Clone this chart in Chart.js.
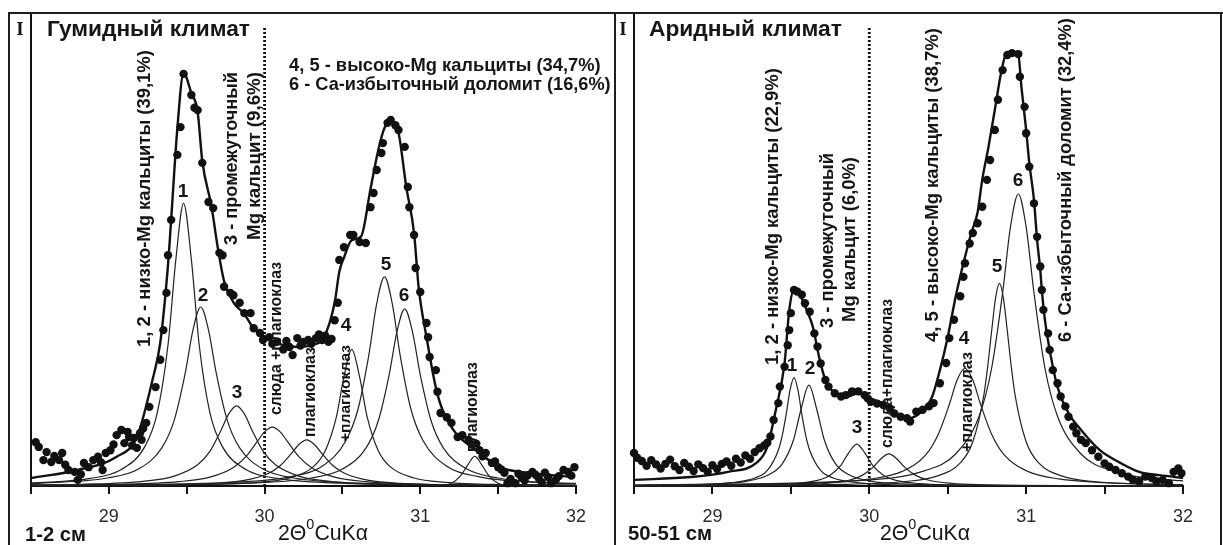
<!DOCTYPE html>
<html><head><meta charset="utf-8">
<script src="https://cdn.jsdelivr.net/npm/chart.js@4.4.1/dist/chart.umd.min.js"></script>
<style>
html,body{margin:0;padding:0;background:#fff;}
#wrap{position:relative;width:1223px;height:545px;overflow:hidden;background:#fff;}
canvas{position:absolute;left:0;top:0;}
.fr{position:absolute;background:#1e1e1e;}
</style></head><body>
<div id="wrap">
<canvas id="cL" width="1223" height="545"></canvas>
<canvas id="cR" width="1223" height="545"></canvas>
<div class="fr" style="left:8px;top:12px;width:1215px;height:2px"></div>
<div class="fr" style="left:8px;top:12px;width:2px;height:533px"></div>
<div class="fr" style="left:614px;top:12px;width:2px;height:533px"></div>
<div class="fr" style="left:1220px;top:12px;width:2px;height:533px"></div>
</div>
<script>
// ---------- axis ticks ----------
const xTicks = [28.5, 29, 29.5, 30, 30.5, 31, 31.5, 32];
const xTickLabels = ['', '29', '', '30', '', '31', '', '32'];
const dividerX = 30;

// ---------- LEFT panel (1-2 см) ----------
const L_dots = [[28.53,9.3],[28.55,8.3],[28.58,5.5],[28.60,7.2],[28.63,5.1],[28.65,6.4],[28.68,5.5],[28.70,7.0],[28.72,4.5],[28.74,3.4],[28.78,3.0],[28.80,1.3],[28.82,2.5],[28.84,4.9],[28.87,4.0],[28.90,5.5],[28.93,6.2],[28.95,5.0],[28.96,3.4],[28.98,7.0],[29.01,7.6],[29.03,8.8],[29.05,10.8],[29.08,11.9],[29.10,9.1],[29.12,11.5],[29.13,10.4],[29.15,8.6],[29.16,10.2],[29.18,8.1],[29.20,11.2],[29.21,9.8],[29.22,12.2],[29.24,13.4],[29.26,16.8],[29.30,21],[29.33,26.8],[29.35,33.1],[29.37,41],[29.38,49],[29.40,56.5],[29.44,70.3],[29.46,76.2],[29.48,87.5],[29.53,83],[29.55,80.3],[29.57,79.8],[29.60,68.6],[29.64,60.3],[29.67,59],[29.71,49.5],[29.73,49],[29.74,42.3],[29.78,41],[29.80,40.5],[29.84,38.9],[29.87,36.7],[29.91,36.7],[29.93,33.5],[29.97,32.5],[29.99,31],[30.03,31.6],[30.05,30.2],[30.08,30.6],[30.12,29.0],[30.14,30.8],[30.16,29.5],[30.18,27.8],[30.21,31.4],[30.23,29.8],[30.25,30.6],[30.28,31],[30.30,30.2],[30.33,31.4],[30.35,32.2],[30.37,31],[30.39,31.9],[30.41,30.6],[30.43,31.2],[30.45,35.2],[30.47,38.9],[30.48,48],[30.51,50.7],[30.55,53.3],[30.57,53.3],[30.61,51.8],[30.65,51.6],[30.68,59.2],[30.70,62.2],[30.72,67.1],[30.75,70.7],[30.76,72.8],[30.79,77.1],[30.81,77.7],[30.84,76.6],[30.86,75.6],[30.90,72],[30.92,63.5],[30.93,59.2],[30.96,53.3],[30.97,46.3],[31.0,41.2],[31.04,34.6],[31.05,31.6],[31.06,27.4],[31.10,24.6],[31.11,20],[31.13,15.5],[31.17,14.6],[31.20,13.4],[31.24,10.4],[31.27,10.8],[31.31,9.8],[31.33,8.8],[31.36,9.0],[31.38,7.6],[31.40,6.3],[31.42,7.0],[31.46,4.9],[31.48,5.2],[31.50,4.0],[31.52,3.5],[31.54,2.8],[31.56,0.6],[31.58,1.5],[31.61,0.6],[31.63,2.6],[31.65,1.9],[31.67,1.2],[31.69,2.3],[31.72,3.0],[31.74,2.4],[31.76,1.7],[31.78,0.8],[31.80,2.8],[31.82,1.9],[31.84,0.6],[31.87,1.3],[31.89,2.1],[31.92,3.4],[31.95,3.0],[31.97,2.2],[31.99,4.0]];
const L_envelope = [[28.5,1.7],[28.8,3.4],[29.05,6.2],[29.18,10.4],[29.28,22.5],[29.33,30.4],[29.38,47],[29.40,56.5],[29.44,76],[29.48,87.7],[29.53,83.4],[29.57,79.5],[29.60,69],[29.66,59.2],[29.70,50.5],[29.74,43.5],[29.80,39],[29.87,36.5],[29.93,33.5],[30.01,31.6],[30.11,30],[30.21,29.5],[30.31,30],[30.38,31.5],[30.45,38.9],[30.48,45.5],[30.51,48.5],[30.56,52.2],[30.62,53],[30.68,63],[30.73,71.3],[30.77,76],[30.81,77.3],[30.86,75],[30.91,63.5],[30.96,53.7],[30.99,42],[31.04,31.6],[31.11,19.5],[31.21,12],[31.36,7.6],[31.51,4],[31.69,2.8],[31.99,1.9]];
const L_c1 = [[28.5,0.6],[28.88,1.6],[29.08,3.5],[29.23,8.3],[29.31,15.4],[29.38,30],[29.43,48],[29.48,60],[29.53,48],[29.58,30],[29.65,15.4],[29.73,8.3],[29.88,3.5],[30.08,1.6],[30.48,0.6],[31.0,0.25],[32,0.1]];
const L_c2 = [[28.5,0.5],[28.99,1.7],[29.19,3.6],[29.34,8.1],[29.42,14],[29.49,23.9],[29.54,33.1],[29.59,38],[29.64,33.1],[29.69,23.9],[29.76,14],[29.84,8.1],[29.99,3.6],[30.19,1.7],[30.59,0.6],[31.5,0.2],[32,0.1]];
const L_c3 = [[28.5,0.22],[28.82,0.37],[29.22,1.0],[29.42,2.1],[29.57,4.5],[29.65,7.4],[29.72,11.8],[29.77,15.3],[29.82,17],[29.87,15.3],[29.92,11.8],[29.99,7.4],[30.07,4.5],[30.22,2.1],[30.42,1.0],[30.82,0.37],[32,0.15]];
const L_mica = [[28.5,0.15],[29.05,0.35],[29.45,0.93],[29.65,1.9],[29.8,3.95],[29.88,6.25],[29.95,9.3],[30.0,11.5],[30.05,12.5],[30.1,11.5],[30.15,9.3],[30.22,6.25],[30.3,3.95],[30.45,1.9],[30.65,0.93],[31.05,0.35],[32,0.15]];
const L_plag1 = [[28.5,0.07],[29.27,0.22],[29.67,0.58],[29.87,1.2],[30.02,2.6],[30.1,4.3],[30.17,6.8],[30.22,8.8],[30.27,9.8],[30.32,8.8],[30.37,6.8],[30.44,4.3],[30.52,2.6],[30.67,1.2],[30.87,0.58],[31.27,0.22],[32,0.1]];
const L_c4 = [[28.5,0.07],[29.56,0.29],[29.96,0.78],[30.16,1.7],[30.31,4.0],[30.39,7.5],[30.46,14.5],[30.51,23.2],[30.56,29],[30.61,23.2],[30.66,14.5],[30.73,7.5],[30.81,4.0],[30.96,1.7],[31.16,0.78],[31.56,0.29],[32,0.15]];
const L_c5 = [[28.5,0.15],[29.77,0.74],[30.17,2.0],[30.37,4.2],[30.52,9.5],[30.6,16.3],[30.67,27.9],[30.72,38.7],[30.77,44.4],[30.82,38.7],[30.87,27.9],[30.94,16.3],[31.02,9.5],[31.17,4.2],[31.37,2.0],[31.77,0.74],[32,0.5]];
const L_c6 = [[28.5,0.12],[29.9,0.62],[30.3,1.7],[30.5,3.6],[30.65,8.0],[30.73,13.8],[30.8,23.6],[30.85,32.7],[30.9,37.6],[30.95,32.7],[31.0,23.6],[31.07,13.8],[31.15,8.0],[31.3,3.6],[31.5,1.7],[31.9,0.62],[32,0.55]];
const L_plag2 = [[31.1,0],[31.2,0.6],[31.26,2.2],[31.3,4.2],[31.35,6.3],[31.4,4.2],[31.44,2.2],[31.5,0.6],[31.6,0]];

// ---------- RIGHT panel (50-51 см) ----------
const R_dots = [[28.5,7.0],[28.52,6.0],[28.55,5.3],[28.58,4.3],[28.61,5.5],[28.64,4.6],[28.67,3.7],[28.70,4.7],[28.73,5.6],[28.76,4.2],[28.79,3.4],[28.82,4.9],[28.85,4.1],[28.88,3.2],[28.91,4.6],[28.94,3.8],[28.97,3.0],[29.0,4.4],[29.03,3.6],[29.06,4.7],[29.09,5.2],[29.12,4.3],[29.15,5.8],[29.18,5.0],[29.21,6.5],[29.24,5.8],[29.27,7.2],[29.30,8.0],[29.33,8.6],[29.35,9.2],[29.37,10.5],[29.39,14.0],[29.42,17.6],[29.43,21.1],[29.46,25.3],[29.48,29.9],[29.49,33.1],[29.50,36.7],[29.52,41.6],[29.54,41.3],[29.57,40.6],[29.59,38.8],[29.62,37],[29.65,32.4],[29.67,29.6],[29.69,26],[29.72,22.5],[29.74,21.1],[29.78,19.7],[29.82,19],[29.85,19.3],[29.89,20.1],[29.93,20.1],[29.97,19.3],[29.99,18.6],[30.01,17.9],[30.05,17.5],[30.09,17.2],[30.13,16.5],[30.16,15.4],[30.20,14.7],[30.24,14.4],[30.26,13.7],[30.30,15.8],[30.34,16.2],[30.38,16.9],[30.41,17.6],[30.45,21.8],[30.49,26.1],[30.51,31.4],[30.54,35.3],[30.58,40.3],[30.60,44.4],[30.61,47.3],[30.64,51.5],[30.66,53.7],[30.69,55.8],[30.72,59.3],[30.75,65],[30.77,69.2],[30.80,75.6],[30.82,82],[30.85,88.3],[30.88,91.5],[30.91,91.9],[30.95,91.7],[30.96,86.9],[30.99,80.5],[31.0,74.9],[31.02,67.8],[31.05,60],[31.07,52.9],[31.09,46.6],[31.10,41.6],[31.11,37.4],[31.14,32.4],[31.15,28.9],[31.17,24.6],[31.20,21.8],[31.22,19],[31.25,16.9],[31.27,14.7],[31.30,12.6],[31.32,11.2],[31.35,9.8],[31.38,9.1],[31.42,7.6],[31.46,6.2],[31.50,4.8],[31.53,4.1],[31.57,3.4],[31.61,2.7],[31.65,2.0],[31.68,1.3],[31.72,1.0],[31.76,2.0],[31.80,1.7],[31.83,1.0],[31.87,1.3],[31.91,0.6],[31.94,3.0],[31.97,3.7],[31.99,2.7]];
const R_envelope = [[28.5,1.3],[28.86,1.9],[29.1,3.0],[29.28,4.9],[29.35,8.3],[29.40,15.5],[29.46,26.1],[29.49,37.4],[29.52,41.6],[29.55,41],[29.60,37.4],[29.64,33.8],[29.68,27.4],[29.72,22.5],[29.78,19.7],[29.85,18.9],[29.93,19.7],[30.0,18.7],[30.08,17.6],[30.15,15.7],[30.25,14.4],[30.33,15.7],[30.40,18.9],[30.45,24.6],[30.50,31.6],[30.55,40.1],[30.59,45.9],[30.61,48.6],[30.65,53.7],[30.69,58],[30.72,65],[30.76,72],[30.80,79.8],[30.84,87.7],[30.87,91.5],[30.91,91.9],[30.95,91.5],[30.97,84.7],[31.0,75.6],[31.02,68.6],[31.05,60.7],[31.07,52.2],[31.09,45.9],[31.10,41.6],[31.12,35.2],[31.15,28.9],[31.20,21],[31.27,15.5],[31.35,11.9],[31.47,7.6],[31.60,4.9],[31.72,3.0],[31.85,2.3],[32.0,1.7]];
const R_c1 = [[28.5,0.1],[28.92,0.3],[29.12,0.7],[29.27,1.7],[29.35,3.3],[29.42,7.6],[29.445,10.7],[29.47,15.2],[29.495,20.4],[29.52,23],[29.545,20.4],[29.57,15.2],[29.595,10.7],[29.62,7.6],[29.69,3.3],[29.77,1.7],[29.92,0.7],[30.12,0.3],[30.52,0.11],[32,0.05]];
const R_c2 = [[28.5,0.14],[28.615,0.17],[29.015,0.47],[29.215,1.0],[29.365,2.5],[29.445,4.7],[29.515,9.6],[29.565,16.3],[29.615,21.4],[29.665,16.3],[29.715,9.6],[29.785,4.7],[29.865,2.5],[30.015,1.0],[30.215,0.47],[30.615,0.17],[32,0.04]];
const R_c3 = [[28.5,0.04],[28.92,0.09],[29.32,0.24],[29.52,0.52],[29.67,1.2],[29.75,2.3],[29.82,4.45],[29.87,7.1],[29.92,8.9],[29.97,7.1],[30.02,4.45],[30.09,2.3],[30.17,1.2],[30.32,0.52],[30.52,0.24],[30.92,0.09],[32,0.02]];
const R_mica = [[28.5,0.04],[29.125,0.1],[29.525,0.26],[29.725,0.56],[29.875,1.27],[29.955,2.26],[30.025,4.0],[30.075,5.8],[30.125,6.8],[30.175,5.8],[30.225,4.0],[30.295,2.26],[30.375,1.27],[30.525,0.56],[30.725,0.26],[31.125,0.1],[32,0.04]];
const R_c4 = [[28.5,0.13],[29.61,0.55],[30.01,1.5],[30.21,3.1],[30.36,6.6],[30.44,11],[30.51,17.3],[30.56,22.5],[30.61,25],[30.66,22.5],[30.71,17.3],[30.78,11],[30.86,6.6],[31.01,3.1],[31.21,1.5],[31.61,0.55],[32,0.3]];
const R_c5 = [[28.5,0.06],[29.83,0.34],[30.23,0.95],[30.43,2.1],[30.58,4.9],[30.66,9.4],[30.73,19.2],[30.755,25.4],[30.78,32.9],[30.805,39.9],[30.83,43],[30.855,39.9],[30.88,32.9],[30.905,25.4],[30.93,19.2],[31.0,9.4],[31.08,4.9],[31.23,2.1],[31.43,0.95],[31.83,0.34],[32,0.24]];
const R_c6 = [[28.5,0.2],[29.95,1.2],[30.35,3.2],[30.55,6.8],[30.7,14.8],[30.78,25],[30.85,41],[30.9,55],[30.95,62],[31.0,55],[31.05,41],[31.12,25],[31.2,14.8],[31.35,6.8],[31.55,3.2],[31.95,1.2],[32,1.1]];

// ---------- text ----------
const L_texts = [
  {t:'I', serif:true, cx:20, cy:30, size:19},
  {t:'Гумидный климат', x:47, cy:30, len:203},
  {t:'4, 5 - высоко-Mg кальциты (34,7%)', x:289, cy:66, len:312},
  {t:'6 - Са-избыточный доломит (16,6%)', x:289, cy:85, len:322},
  {t:'1, 2 - низко-Mg кальциты (39,1%)', rot:true, cx:145, cy:198.5, len:297},
  {t:'3 - промежуточный', rot:true, cx:232, cy:158.5, len:173},
  {t:'Mg кальцит (9,6%)', rot:true, cx:255, cy:156, len:168},
  {t:'слюда +плагиоклаз', rot:true, cx:277, cy:338.5, len:153},
  {t:'плагиоклаз', rot:true, cx:311, cy:392, len:90},
  {t:'+плагиоклаз', rot:true, cx:346, cy:393.5, len:97},
  {t:'плагиоклаз', rot:true, cx:473, cy:407, len:90},
  {t:'1', cx:183, cy:192, size:19},
  {t:'2', cx:203, cy:296, size:19},
  {t:'3', cx:237, cy:393, size:19},
  {t:'4', cx:346, cy:326, size:19},
  {t:'5', cx:386, cy:265, size:19},
  {t:'6', cx:404, cy:296, size:19},
  {t:'1-2 см', x:25, cy:535, len:61},
  {axis:true, x:278, cy:534, len:90}
];
const R_texts = [
  {t:'I', serif:true, cx:623, cy:30, size:19},
  {t:'Аридный климат', x:649, cy:30, len:193},
  {t:'1, 2 - низко-Mg кальциты (22,9%)', rot:true, cx:773, cy:216.5, len:297},
  {t:'3 - промежуточный', rot:true, cx:828, cy:240.5, len:175},
  {t:'Mg кальцит (6,0%)', rot:true, cx:850, cy:239.5, len:165},
  {t:'слюда+плагиоклаз', rot:true, cx:888, cy:373.5, len:149},
  {t:'4, 5 - высоко-Mg кальциты (38,7%)', rot:true, cx:933, cy:185, len:314},
  {t:'+плагиоклаз', rot:true, cx:968, cy:402, len:100},
  {t:'6 - Са-избыточный доломит (32,4%)', rot:true, cx:1066, cy:180, len:324},
  {t:'1', cx:792, cy:366, size:19},
  {t:'2', cx:810, cy:369, size:19},
  {t:'3', cx:857, cy:428, size:19},
  {t:'4', cx:964, cy:339, size:19},
  {t:'5', cx:997, cy:267, size:19},
  {t:'6', cx:1018, cy:181, size:19},
  {t:'50-51 см', x:628, cy:534, len:84},
  {axis:true, x:880, cy:534, len:90}
];

const FONT = '"Liberation Sans", Arial, Helvetica, sans-serif';
const SERIF = '"Liberation Serif", "Times New Roman", serif';
const INK = '#161616';

function fitSize(ctx, text, weight, fam, len, base) {
  ctx.font = weight + ' ' + base + 'px ' + fam;
  const w = ctx.measureText(text).width;
  return base * len / w;
}

function drawTexts(ctx, list) {
  ctx.save();
  ctx.fillStyle = INK;
  ctx.textBaseline = 'middle';
  list.forEach(o => {
    if (o.axis) {
      const parts = [['2Θ', 1, 0], ['0', 0.68, -0.42], ['CuK', 1, 0], ['α', 1, 0]];
      const base = 19;
      let tot = 0;
      parts.forEach(p => { ctx.font = 'normal ' + (base * p[1]) + 'px ' + FONT; tot += ctx.measureText(p[0]).width; });
      const k = o.len / tot;
      let x = o.x;
      ctx.textAlign = 'left';
      parts.forEach(p => {
        const s = base * p[1] * k;
        ctx.font = 'normal ' + s + 'px ' + FONT;
        ctx.fillText(p[0], x, o.cy + p[2] * base * k);
        x += ctx.measureText(p[0]).width;
      });
      return;
    }
    if (o.serif) {
      ctx.font = 'bold ' + o.size + 'px ' + SERIF;
      ctx.textAlign = 'center';
      ctx.fillText(o.t, o.cx, o.cy);
      return;
    }
    if (o.size) {
      ctx.font = 'bold ' + o.size + 'px ' + FONT;
      ctx.textAlign = 'center';
      ctx.fillText(o.t, o.cx, o.cy);
      return;
    }
    const s = fitSize(ctx, o.t, 'bold', FONT, o.len, 16);
    ctx.font = 'bold ' + s + 'px ' + FONT;
    if (o.rot) {
      ctx.save();
      ctx.translate(o.cx, o.cy);
      ctx.rotate(-Math.PI / 2);
      ctx.textAlign = 'center';
      ctx.fillText(o.t, 0, 0);
      ctx.restore();
    } else {
      ctx.textAlign = 'left';
      ctx.fillText(o.t, o.x, o.cy);
    }
  });
  ctx.restore();
}

const toXY = a => a.map(p => ({x: p[0], y: p[1]}));

function makeChart(id, area, dots, envelope, comps, texts) {
  const datasets = [];
  datasets.push({data: toXY(dots), showLine: false, pointRadius: 4.2, pointHoverRadius: 4.2,
    pointBackgroundColor: '#111', pointBorderWidth: 0, clip: false});
  datasets.push({data: toXY(envelope), showLine: true, pointRadius: 0, borderColor: '#111',
    borderWidth: 2.4, cubicInterpolationMode: 'monotone', fill: false, clip: false});
  comps.forEach(c => datasets.push({data: toXY(c), showLine: true, pointRadius: 0,
    borderColor: '#222', borderWidth: 1.2, cubicInterpolationMode: 'monotone', fill: false, clip: false}));

  const annot = {
    id: 'annot_' + id,
    beforeDatasetsDraw(chart) {
      const c = chart.ctx, xs = chart.scales.x;
      const px = xs.getPixelForValue(dividerX);
      c.save();
      c.strokeStyle = '#111';
      c.lineWidth = 2.8;
      c.setLineDash([2, 2]);
      c.beginPath();
      c.moveTo(px, 28);
      c.lineTo(px, chart.chartArea.bottom);
      c.stroke();
      c.restore();
    },
    afterDraw(chart) { drawTexts(chart.ctx, texts); }
  };

  const chart = new Chart(document.getElementById(id), {
    type: 'line',
    data: {datasets},
    options: {
      responsive: false,
      animation: false,
      events: [],
      layout: {padding: {left: area.left - 4, right: 1223 - area.right - 12, top: area.top, bottom: 545 - area.bottom - 30}},
      plugins: {legend: {display: false}, tooltip: {enabled: false}},
      scales: {
        x: {
          type: 'linear', min: 28.5, max: 32,
          afterBuildTicks: ax => { ax.ticks = xTicks.map(v => ({value: v})); },
          ticks: {autoSkip: false, maxRotation: 0, padding: 12, color: '#2a2a2a',
            font: {family: FONT, size: 18}, callback: (v, i) => xTickLabels[i]},
          grid: {display: true, drawOnChartArea: false, drawTicks: true, tickLength: 8, color: '#111', lineWidth: 2},
          border: {display: true, color: '#111', width: 2}
        },
        y: {
          type: 'linear', min: 0, max: 100,
          ticks: {display: false},
          grid: {display: false, drawTicks: false},
          border: {display: true, color: '#111', width: 2}
        }
      }
    },
    plugins: [annot]
  });
  for (let i = 0; i < 3; i++) {
    const a = chart.chartArea, p = chart.options.layout.padding;
    p.left += area.left - a.left;
    p.top += area.top - a.top;
    p.right += a.right - area.right;
    p.bottom += a.bottom - area.bottom;
    chart.update('none');
  }
  return chart;
}

makeChart('cL', {left: 31, right: 576, top: 15, bottom: 486}, L_dots, L_envelope,
  [L_c1, L_c2, L_c3, L_mica, L_plag1, L_c4, L_c5, L_c6, L_plag2], L_texts);
makeChart('cR', {left: 634, right: 1183, top: 15, bottom: 486}, R_dots, R_envelope,
  [R_c1, R_c2, R_c3, R_mica, R_c4, R_c5, R_c6], R_texts);
</script>
</body></html>
